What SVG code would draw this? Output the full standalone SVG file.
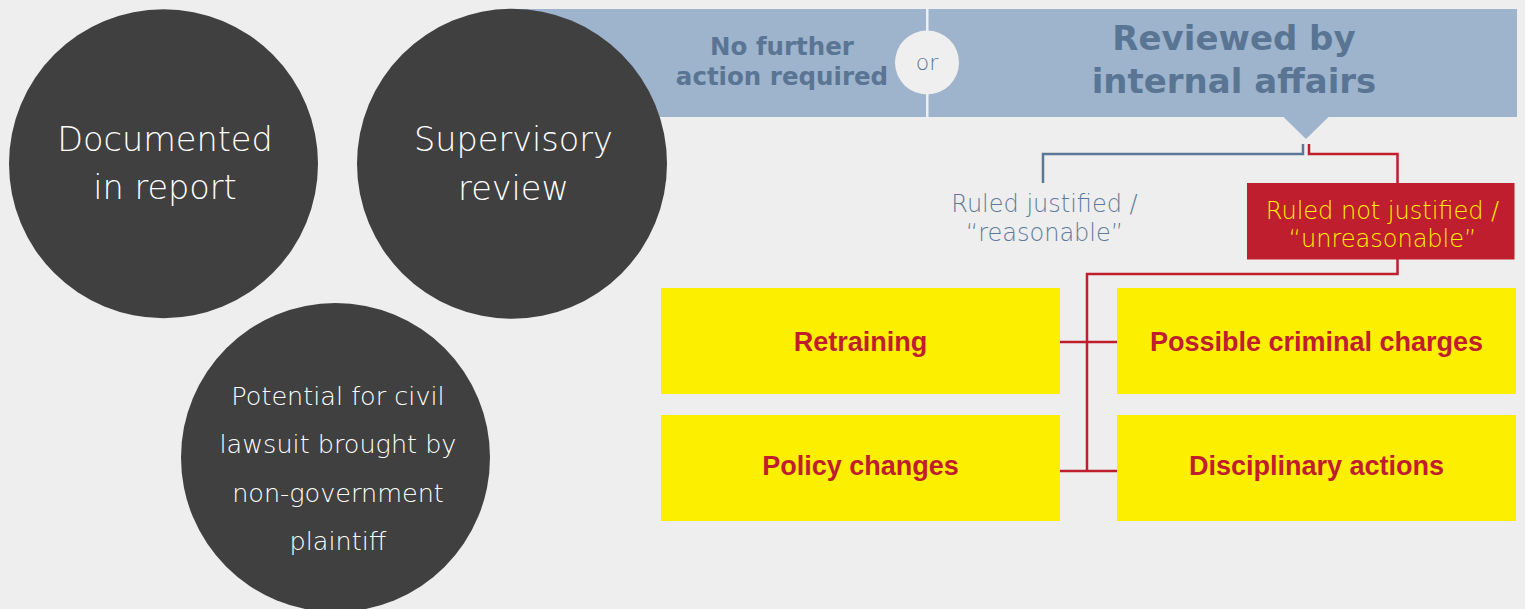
<svg xmlns="http://www.w3.org/2000/svg" width="1525" height="609" viewBox="0 0 1525 609">
<style>
.bg{fill:#eeeeee}
.circ{fill:#404040}
.ct{font-family:"DejaVu Sans","Liberation Sans",sans-serif;font-weight:300;fill:#ffffff;text-anchor:middle}
.banner{fill:#9db4cc}
.heavy{font-family:"DejaVu Sans","Liberation Sans",sans-serif;font-weight:bold;fill:#5a7594;text-anchor:middle}
.light{font-family:"DejaVu Sans","Liberation Sans",sans-serif;font-weight:300;text-anchor:middle}
.ybox{fill:#fdef00}
.yt{font-family:"Liberation Sans",Arial,sans-serif;font-weight:bold;font-size:27px;fill:#be1e2d;text-anchor:middle}
.blue{fill:none;stroke:#5b7896;stroke-width:2.5}
.red{fill:none;stroke:#be1e2d;stroke-width:2.5}
</style>
<rect class="bg" x="0" y="0" width="1525" height="609"/>

<g id="banner">
<rect class="banner" x="505" y="9" width="1012" height="108"/>
<rect x="926" y="9" width="2.5" height="108" fill="#efefef"/>
<polygon class="banner" points="1283,116.5 1329,116.5 1306,139"/>
</g>

<g id="no-further-action">
<text class="heavy" x="782" y="55" font-size="24.5">No further</text>
<text class="heavy" x="782" y="85" font-size="24.5">action required</text>
</g>

<g id="or">
<circle cx="927" cy="62.5" r="32" fill="#efefef"/>
<text class="light" x="927" y="70" font-size="22" fill="#5b7693">or</text>
</g>

<g id="internal-affairs">
<text class="heavy" x="1234" y="50" font-size="34">Reviewed by</text>
<text class="heavy" x="1234" y="93" font-size="34">internal affairs</text>
</g>

<g id="documented">
<circle class="circ" cx="163.5" cy="163.8" r="154.5"/>
<text class="ct" x="165" y="150.5" font-size="33.5">Documented</text>
<text class="ct" x="165" y="198.5" font-size="33.5">in report</text>
</g>

<g id="supervisory">
<circle class="circ" cx="512" cy="163.8" r="155"/>
<text class="ct" x="513.5" y="151" font-size="33.5">Supervisory</text>
<text class="ct" x="513.5" y="199.5" font-size="33.5">review</text>
</g>

<g id="civil-lawsuit">
<circle class="circ" cx="335.5" cy="457.5" r="154.5"/>
<text class="ct" x="338" y="405" font-size="25.5">Potential for civil</text>
<text class="ct" x="338" y="453.3" font-size="25.5">lawsuit brought by</text>
<text class="ct" x="338" y="501.7" font-size="25.5">non-government</text>
<text class="ct" x="338" y="550" font-size="25.5">plaintiff</text>
</g>

<g id="connectors">
<path class="blue" d="M1303,144 V154 H1043 V183"/>
<path class="red" d="M1309,144 V154 H1397.5 V183"/>
<path class="red" d="M1397.5,259 V274 H1087 V471"/>
<path class="red" d="M1060,342 H1117"/>
<path class="red" d="M1060,471 H1117"/>
</g>

<g id="ruled-justified">
<text class="light" x="1044.5" y="211.7" font-size="24" fill="#5f7a98">Ruled justified /</text>
<text class="light" x="1044.5" y="240.7" font-size="24" fill="#5f7a98">“reasonable”</text>
</g>

<g id="ruled-not-justified">
<rect x="1247" y="183" width="267.5" height="76.5" fill="#be1e2d"/>
<text class="light" x="1382.5" y="219" font-size="24" fill="#fff200">Ruled not justified /</text>
<text class="light" x="1382.5" y="246.7" font-size="24" fill="#fff200">“unreasonable”</text>
</g>

<g id="retraining">
<rect class="ybox" x="661" y="288" width="399" height="106"/>
<text class="yt" x="860.5" y="351">Retraining</text>
</g>

<g id="criminal-charges">
<rect class="ybox" x="1117" y="288" width="399" height="106"/>
<text class="yt" x="1316.5" y="351">Possible criminal charges</text>
</g>

<g id="policy-changes">
<rect class="ybox" x="661" y="415" width="399" height="106"/>
<text class="yt" x="860.5" y="475">Policy changes</text>
</g>

<g id="disciplinary-actions">
<rect class="ybox" x="1117" y="415" width="399" height="106"/>
<text class="yt" x="1316.5" y="475">Disciplinary actions</text>
</g>
</svg>
